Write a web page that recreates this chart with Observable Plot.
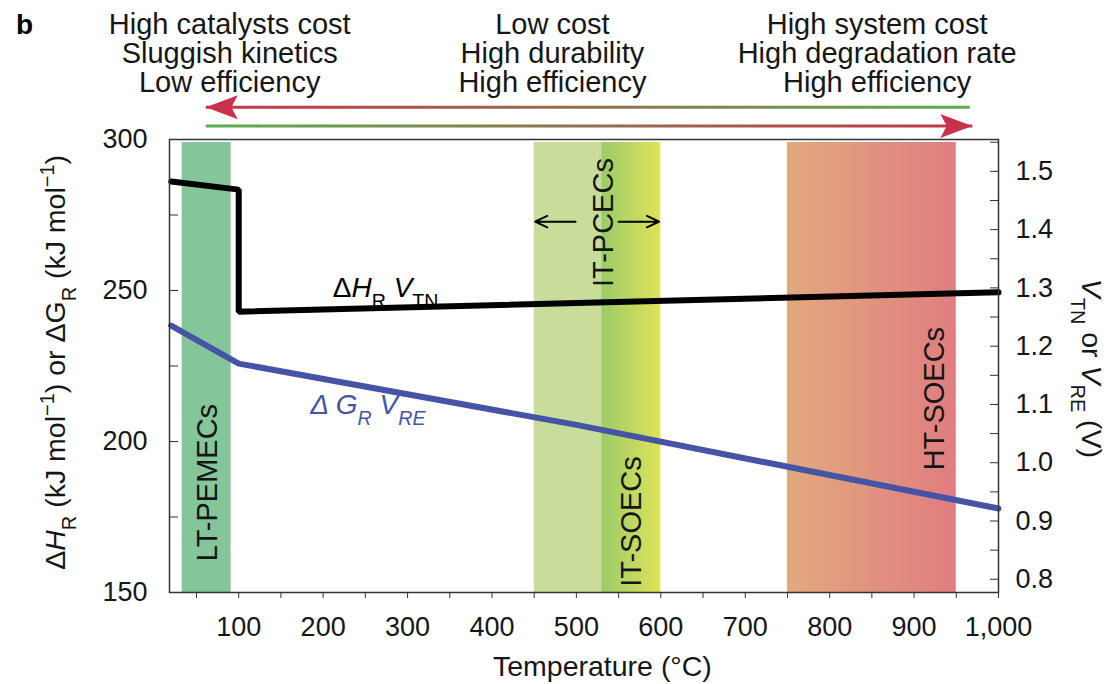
<!DOCTYPE html>
<html><head><meta charset="utf-8">
<script src="https://cdn.jsdelivr.net/npm/d3@7"></script>
<script src="https://cdn.jsdelivr.net/npm/@observablehq/plot@0.6"></script>
<style>body{margin:0;background:#fff;}</style>
</head><body><div id="chart"></div>
<script>
// ---- data ----
const tempH = [20, 100, 100, 1000];
const enthalpy = [286.1, 283.4, 243.0, 249.4];
const tempG = [20, 100, 500, 1000];
const gibbs = [238.4, 225.8, 205.5, 177.8];
const F2 = 192.97; // kJ/mol per volt (2F)

const bandStart = [33, 450, 530, 750];
const bandEnd = [91, 530, 600, 950];
const bandFill = ["#84c59a", "#c9dd9b", "url(#gradIT)", "url(#gradHT)"];

const bandLabels = ["LT-PEMECs", "IT-PCECs", "IT-SOECs", "HT-SOECs"];
const bandLabelT = [63, 532, 566, 925];
const bandLabelV = [186.4, 272.5, 173.5, 214.2];

const pcecArrowFrom = [499, 550];
const pcecArrowTo = [451, 598];
const pcecArrowV = [272.8, 272.8];

const headerText = [
  "High catalysts cost\nSluggish kinetics\nLow efficiency",
  "Low cost\nHigh durability\nHigh efficiency",
  "High system cost\nHigh degradation rate\nHigh efficiency"
];
const headerT = [89.3, 471.6, 856.2];
const headerV = [341.6, 341.6, 341.6];

const trendFrom = [966, 61];
const trendTo = [61, 969];
const trendV = [310.7, 304.5];
const trendHeadRotate = [180, 0];

const xMajor = d3.range(100, 1001, 100);
const xMinor = d3.range(50, 1000, 100);
const yMajor = [150, 200, 250, 300];
const yAll = [150, 175, 200, 225, 250, 275, 300];
const vMajor = [0.8, 0.9, 1.0, 1.1, 1.2, 1.3, 1.4, 1.5];
const vAll = [0.8, 0.85, 0.9, 0.95, 1.0, 1.05, 1.1, 1.15, 1.2, 1.25, 1.3, 1.35, 1.4, 1.45, 1.5, 1.55];

const lineLabelT = [274, 253];
const lineLabelV = [250.7, 212.0];

const ink = "#161616";
const blue = "#4654a5";
const red = "#c8334a";
const green = "#5bae50";

const hData = tempH.map((t, i) => ({t, v: enthalpy[i]}));
const gData = tempG.map((t, i) => ({t, v: gibbs[i]}));
const bands = bandStart.map((s, i) => ({s, e: bandEnd[i], f: bandFill[i]}));

const headSymbol = {
  draw(ctx, size) {
    const r = Math.sqrt(size / Math.PI);
    const L = 2 * r, H = 0.75 * r;
    ctx.moveTo(0, 0);
    ctx.lineTo(-L, -H);
    ctx.lineTo(-0.8 * L, 0);
    ctx.lineTo(-L, H);
    ctx.closePath();
  }
};

const fsTick = 27, fsText = 29, fsTitle = 28.5;

const plot = Plot.plot({
  width: 1109, height: 684,
  marginLeft: 169, marginRight: 111, marginTop: 139, marginBottom: 92,
  x: {domain: [18, 1000]},
  y: {domain: [150, 300]},
  style: {fontFamily: "'Liberation Sans', Arial, sans-serif", fontSize: fsTick + "px", color: ink, background: "white", overflow: "visible"},
  marks: [
    Plot.rect(bands, {x1: "s", x2: "e", y1: 150, y2: 299, fill: "f"}),
    Plot.line(gData, {x: "t", y: "v", stroke: blue, strokeWidth: 6, strokeLinejoin: "round"}),
    Plot.line(hData, {x: "t", y: "v", stroke: "#000", strokeWidth: 6, strokeLinejoin: "miter"}),
    Plot.text(bandLabels, {x: bandLabelT, y: bandLabelV, text: d => d, rotate: -90, fill: ink, fontSize: fsText}),
    Plot.arrow(pcecArrowFrom, {x1: pcecArrowFrom, x2: pcecArrowTo, y1: pcecArrowV, y2: pcecArrowV, stroke: "#000", strokeWidth: 2, headLength: 12, headAngle: 50}),
    Plot.text(["ΔHR VTN"], {x: [lineLabelT[0]], y: [lineLabelV[0]], text: d => d, fill: "#000", fontSize: fsText - 1, className: "lbl-h"}),
    Plot.text(["ΔGR VRE"], {x: [lineLabelT[1]], y: [lineLabelV[1]], text: d => d, fill: blue, fontSize: fsText - 1, className: "lbl-g"}),
    // axes
    Plot.axisX({ticks: xMajor, tickFormat: d3.format(","), tickSize: 6, tickPadding: 18, label: null, stroke: "#333", fill: ink}),
    Plot.axisX({ticks: xMinor, tickFormat: () => "", tickSize: 6, label: null, stroke: "#333"}),
    Plot.axisY({anchor: "left", ticks: yMajor, tickSize: 0, tickPadding: 22, label: null, fill: ink}),
    Plot.axisY({anchor: "left", ticks: yAll, tickFormat: () => "", tickSize: 9, dx: 9, label: null, stroke: "#333"}),
    Plot.axisY({anchor: "right", ticks: vMajor.map(v => v * F2), tickFormat: d => (d / F2).toFixed(1), tickSize: 0, tickPadding: 17, label: null, fill: ink}),
    Plot.axisY({anchor: "right", ticks: vAll.map(v => v * F2), tickFormat: () => "", tickSize: 9, dx: -9, label: null, stroke: "#333"}),
    Plot.frame({stroke: "#333", strokeWidth: 1.5}),
    // axis titles
    Plot.text(["Temperature (°C)"], {x: [530.8], y: [125.5], text: d => d, fill: ink, fontSize: fsTitle}),
    Plot.text(["ΔHR (kJ mol−1) or ΔGR (kJ mol−1)"], {x: [-116.6], y: [226.2], text: d => d, rotate: -90, fill: ink, fontSize: fsTitle, className: "ttl-left"}),
    Plot.text(["VTN or VRE (V)"], {x: [1110], y: [224.2], text: d => d, rotate: 90, fill: ink, fontSize: fsTitle, className: "ttl-right"}),
    // header
    Plot.text(["b"], {x: [-163.9], y: [341.6], text: d => d, fontWeight: "bold", textAnchor: "start", lineAnchor: "top", fill: "#000", fontSize: 28}),
    Plot.text(headerText, {x: headerT, y: headerV, text: d => d, lineAnchor: "top", lineHeight: 0.995, fill: ink, fontSize: fsText}),
    Plot.link([0], {x1: [trendFrom[0]], x2: [trendTo[0]], y1: [trendV[0]], y2: [trendV[0]], stroke: "url(#gradRed)", strokeWidth: 3}),
    Plot.link([0], {x1: [trendFrom[1]], x2: [trendTo[1]], y1: [trendV[1]], y2: [trendV[1]], stroke: "url(#gradGreen)", strokeWidth: 3}),
    Plot.dot(trendTo, {x: trendTo, y: trendV, rotate: trendHeadRotate, symbol: headSymbol, r: 16, fill: red, stroke: "none"})
  ]
});

// gradients (positions via the plot's own x scale)
const xs = plot.scale("x");
const svg = d3.select(plot);
const defs = svg.insert("defs", ":first-child");
function grad(id, stops, x1, x2, user) {
  const g = defs.append("linearGradient").attr("id", id);
  if (user) g.attr("gradientUnits", "userSpaceOnUse").attr("x1", x1).attr("x2", x2).attr("y1", 0).attr("y2", 0);
  else g.attr("x1", "0").attr("x2", "1").attr("y1", "0").attr("y2", "0");
  stops.forEach(([o, c]) => g.append("stop").attr("offset", o).attr("stop-color", c));
}
grad("gradIT", [[0, "#9ccb68"], [1, "#dee35a"]]);
grad("gradHT", [[0, "#e2a97d"], [1, "#e07d80"]]);
grad("gradRed", [[0, red], [1, green]], xs.apply(61), xs.apply(966), true);
grad("gradGreen", [[0, green], [1, red]], xs.apply(61), xs.apply(969), true);

// rich text (italic / subscripts / superscripts)
function rich(cls, parts) {
  svg.selectAll(`g.${cls} text`).each(function () {
    const t = d3.select(this);
    t.text(null);
    for (const p of parts) {
      const s = t.append("tspan").text(p.t);
      if (p.i) s.attr("font-style", "italic");
      if (p.sub) s.attr("baseline-shift", "sub").attr("font-size", "0.7em");
      if (p.sup) s.attr("baseline-shift", "super").attr("font-size", "0.7em");
    }
  });
}
rich("lbl-h", [{t: "Δ"}, {t: "H", i: 1}, {t: "R", sub: 1}, {t: " "}, {t: "V", i: 1}, {t: "TN", sub: 1}]);
rich("lbl-g", [{t: "Δ ", i: 1}, {t: "G", i: 1}, {t: "R", sub: 1, i: 1}, {t: " "}, {t: "V", i: 1}, {t: "RE", sub: 1, i: 1}]);
rich("ttl-left", [{t: "Δ"}, {t: "H", i: 1}, {t: "R", sub: 1}, {t: " (kJ mol"}, {t: "−1", sup: 1}, {t: ") or Δ"}, {t: "G"}, {t: "R", sub: 1}, {t: " (kJ mol"}, {t: "−1", sup: 1}, {t: ")"}]);
rich("ttl-right", [{t: "V", i: 1}, {t: "TN", sub: 1}, {t: " or "}, {t: "V", i: 1}, {t: "RE", sub: 1}, {t: " (V)"}]);

document.getElementById("chart").append(plot);
</script>
</body></html>
